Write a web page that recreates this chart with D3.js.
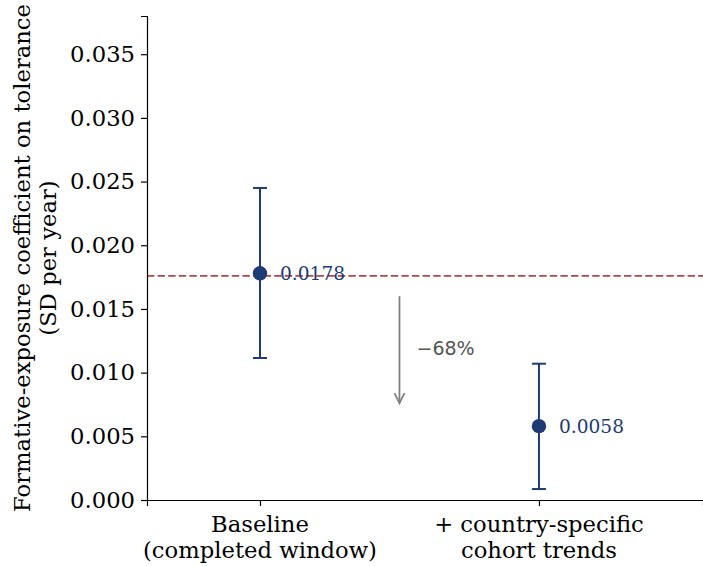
<!DOCTYPE html>
<html><head><meta charset="utf-8">
<script src="https://cdn.jsdelivr.net/npm/d3@7/dist/d3.min.js"></script>
<style>body{margin:0;background:#fff;} svg{display:block;}</style>
</head><body>
<script>
const categories = ["Baseline\n(completed window)", "+ country-specific\ncohort trends"];
const estimates = [0.0178, 0.0058];
const ciLow = [0.01115, 0.00086];
const ciHigh = [0.0245, 0.0107];
const pointLabels = ["0.0178", "0.0058"];
const referenceLine = 0.0176;
const yTicks = [0, 0.005, 0.010, 0.015, 0.020, 0.025, 0.030, 0.035];
const arrowFrom = 0.0160, arrowTo = 0.0076, arrowText = "\u221268%", arrowTextY = 0.0119;

const W = 703, H = 566;
const m = {left: 147, top: 16, right: 0, bottom: 66};
const svg = d3.select("body").append("svg").attr("width", W).attr("height", H);

const x = d3.scaleLinear().domain([-0.405, 1.588]).range([m.left, W - m.right]);
const y = d3.scaleLinear().domain([0, 0.038]).range([H - m.bottom, m.top]);

const navy = "#1f3b73", red = "#b5464a", grey = "#808080";
const serif = "DejaVu Serif", sans = "DejaVu Sans";
const fs = 22.7;

// reference line
svg.append("line").attr("x1", m.left).attr("x2", W).attr("y1", y(referenceLine)).attr("y2", y(referenceLine))
  .attr("stroke", red).attr("stroke-width", 1.8).attr("stroke-dasharray", "7.4,3.2");

// axes
const yAxis = svg.append("g").attr("transform", `translate(${m.left},0)`)
  .call(d3.axisLeft(y).tickValues(yTicks).tickFormat(d3.format(".3f")).tickSizeOuter(0).tickSize(6).tickPadding(6));
yAxis.selectAll("text").attr("font-family", serif).attr("font-size", fs).attr("fill", "#000");
yAxis.select(".domain").attr("stroke", "#000").attr("stroke-width", 1.2);
yAxis.selectAll(".tick line").attr("stroke", "#000").attr("stroke-width", 1.2);

const xAxis = svg.append("g").attr("transform", `translate(0,${y(0)})`)
  .call(d3.axisBottom(x).tickValues([0, 1]).tickFormat("").tickSizeOuter(0).tickSize(6));
xAxis.select(".domain").attr("stroke", "#000").attr("stroke-width", 1.2);
xAxis.selectAll(".tick line").attr("stroke", "#000").attr("stroke-width", 1.2);

categories.forEach((c, i) => {
  const t = svg.append("text").attr("x", x(i)).attr("y", y(0) + 32)
    .attr("text-anchor", "middle").attr("font-family", serif).attr("font-size", fs).attr("fill", "#000");
  c.split("\n").forEach((line, j) => t.append("tspan").attr("x", x(i)).attr("dy", j ? 26 : 0).text(line));
});

// y label
const yl = svg.append("text").attr("transform", `translate(30,${y(0.019)}) rotate(-90)`)
  .attr("text-anchor", "middle").attr("font-family", serif).attr("font-size", fs).attr("fill", "#000");
yl.append("tspan").attr("x", 0).attr("dy", 0).text("Formative-exposure coefficient on tolerance");
yl.append("tspan").attr("x", 0).attr("dy", 26).text("(SD per year)");

// error bars
const g = svg.append("g");
estimates.forEach((v, i) => {
  const cx = x(i);
  g.append("line").attr("x1", cx).attr("x2", cx).attr("y1", y(ciLow[i])).attr("y2", y(ciHigh[i]))
    .attr("stroke", navy).attr("stroke-width", 2);
  [ciLow[i], ciHigh[i]].forEach(e => g.append("line").attr("x1", cx - 7).attr("x2", cx + 7)
    .attr("y1", y(e)).attr("y2", y(e)).attr("stroke", navy).attr("stroke-width", 2));
  g.append("circle").attr("cx", cx).attr("cy", y(v)).attr("r", 7.2).attr("fill", navy);
  g.append("text").attr("x", cx + 20).attr("y", y(v)).attr("dy", "0.35em")
    .attr("font-family", serif).attr("font-size", 18.6).attr("fill", navy).text(pointLabels[i]);
});

// arrow
const ax = x(0.5);
svg.append("line").attr("x1", ax).attr("x2", ax).attr("y1", y(arrowFrom)).attr("y2", y(arrowTo))
  .attr("stroke", grey).attr("stroke-width", 1.8);
svg.append("path").attr("d", `M${ax - 5},${y(arrowTo) - 10} L${ax},${y(arrowTo)} L${ax + 5},${y(arrowTo) - 10}`)
  .attr("fill", "none").attr("stroke", grey).attr("stroke-width", 1.8);
svg.append("text").attr("x", ax + 17).attr("y", y(arrowTextY)).attr("dy", "0.35em")
  .attr("font-family", sans).attr("font-size", 19).attr("fill", "#555").text(arrowText);
</script>
</body></html>
